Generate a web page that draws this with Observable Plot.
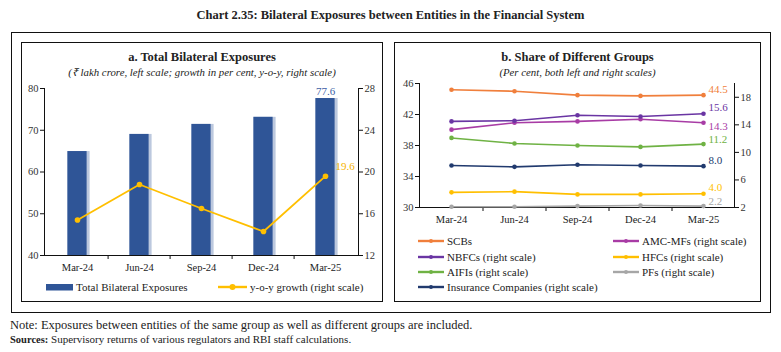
<!DOCTYPE html>
<html><head><meta charset="utf-8">
<script src="https://cdn.jsdelivr.net/npm/d3@7"></script>
<script src="https://cdn.jsdelivr.net/npm/@observablehq/plot@0.6"></script>
<style>
html,body{margin:0;padding:0;background:#fff}
body{position:relative;width:781px;height:352px;overflow:hidden;font-family:"Liberation Serif",serif;color:#222}
.box{position:absolute;box-sizing:border-box;border:1px solid #111}
.t{position:absolute;white-space:nowrap}
.plot{position:absolute}
.leg{position:absolute;white-space:nowrap;font-size:11px;line-height:12px;display:flex;align-items:center}
.leg svg{margin-right:3px}
</style></head>
<body>
<div class="t" id="mainTitle" style="left:0;width:781px;text-align:center;top:7px;font-size:12.5px;font-weight:bold;line-height:16px;">Chart 2.35: Bilateral Exposures between Entities in the Financial System</div>
<div class="box" style="left:11px;top:32px;width:760px;height:281px;border-width:1.5px"></div>
<div class="box" style="left:21px;top:42px;width:362px;height:260px"></div>
<div class="box" style="left:394px;top:42px;width:367px;height:260px"></div>

<div class="t" style="left:21px;width:362px;text-align:center;top:50px;font-size:12.5px;font-weight:bold;line-height:14px">a. Total Bilateral Exposures</div>
<div class="t" style="left:21px;width:362px;text-align:center;top:66px;font-size:10.8px;font-style:italic;line-height:12px">(₹ lakh crore, left scale; growth in per cent, y-o-y, right scale)</div>
<div class="t" style="left:394px;width:367px;text-align:center;top:50px;font-size:12.5px;font-weight:bold;line-height:14px">b. Share of Different Groups</div>
<div class="t" style="left:394px;width:367px;text-align:center;top:66px;font-size:10.8px;font-style:italic;line-height:12px">(Per cent, both left and right scales)</div>

<div id="pa1" class="plot" style="left:21px;top:80px"></div>
<div id="pa2" class="plot" style="left:21px;top:80px"></div>
<div id="pb1" class="plot" style="left:394px;top:75px"></div>
<div id="pb2" class="plot" style="left:394px;top:75px"></div>
<div id="legends"></div>

<div class="t" style="left:10px;top:317px;font-size:12.5px;line-height:16px">Note: Exposures between entities of the same group as well as different groups are included.</div>
<div class="t" style="left:10px;top:332px;font-size:11px;line-height:14px"><b style="font-size:10.5px">Sources:</b> Supervisory returns of various regulators and RBI staff calculations.</div>

<script>
// ---------- DATA ----------
const quarters = ["Mar-24", "Jun-24", "Sep-24", "Dec-24", "Mar-25"];
const totalExposures = [64.9, 69.0, 71.4, 73.1, 77.6];     // ₹ lakh crore (left)
const yoyGrowth = [15.4, 18.8, 16.5, 14.3, 19.6];           // per cent (right)

const scbs = [45.2, 45.0, 44.5, 44.4, 44.5];                // left scale
const amcMfs = [13.3, 14.3, 14.5, 14.8, 14.3];              // right scale
const nbfcs = [14.5, 14.6, 15.4, 15.2, 15.6];
const hfcs = [4.2, 4.3, 3.9, 3.9, 4.0];
const aifis = [12.1, 11.3, 11.0, 10.8, 11.2];
const pfs = [2.1, 2.1, 2.2, 2.3, 2.2];
const insurance = [8.1, 7.9, 8.2, 8.1, 8.0];

const aTicksLeft = [40, 50, 60, 70, 80];
const aTicksRight = [12, 16, 20, 24, 28];
const bTicksLeft = [30, 34, 38, 42, 46];
const bTicksRight = [2, 6, 10, 14, 18];

const seriesNames = ["SCBs", "AMC-MFs (right scale)", "NBFCs (right scale)", "HFCs (right scale)", "AIFIs (right scale)", "PFs (right scale)", "Insurance Companies (right scale)"];
const seriesValues = [scbs, amcMfs, nbfcs, hfcs, aifis, pfs, insurance];
const seriesAxis = ["left", "right", "right", "right", "right", "right", "right"];

// ---------- STYLE ----------
const seriesColors = ["#f07f3c", "#a83ca5", "#6a35a3", "#ffbf00", "#6fb244", "#a6a6a6", "#213a6e"];
const labelDy = [-6, 4, -6, -6, -5, -5, -6];
const barColor = "#2f5597", barShade = "#bcc8de", growthColor = "#ffbf00";
const fmt = d3.format(".1f");
const plotStyle = {fontFamily: "Liberation Serif", fontSize: "10.5px", color: "#333", background: "transparent", overflow: "visible"};

// ---------- PANEL A ----------
const A = {width: 361, height: 200, marginLeft: 23, marginRight: 24, marginTop: 8, marginBottom: 25};
const aData = quarters.map((q, i) => ({q, v: totalExposures[i], g: yoyGrowth[i]}));
const bandHalf = (A.width - A.marginLeft - A.marginRight) / quarters.length / 2;
const barInset = bandHalf - 10;

document.getElementById("pa1").append(Plot.plot({
  ...A, style: plotStyle,
  x: {type: "band", domain: quarters, padding: 0},
  y: {domain: [40, 80]},
  marks: [
    Plot.barY(aData, {x: "q", y1: 40, y2: "v", fill: barShade, insetLeft: barInset, insetRight: barInset - 3}),
    Plot.barY(aData, {x: "q", y1: 40, y2: "v", fill: barColor, insetLeft: barInset, insetRight: barInset}),
    Plot.text(aData.slice(-1), {x: "q", y: "v", text: d => fmt(d.v), dy: -7, fill: "#3d5ea6", fontSize: 11}),
    Plot.axisY({ticks: aTicksLeft, tickSize: 4, tickPadding: 2, label: null, stroke: "#111"}),
    Plot.axisX({tickSize: 0, tickPadding: 8, label: null, fill: "#222"}),
    Plot.axisX(quarters.slice(1), {tickSize: 4, tickFormat: () => "", dx: -bandHalf, label: null, stroke: "#111"}),
    Plot.frame({anchor: "left", stroke: "#111"}),
    Plot.frame({anchor: "bottom", stroke: "#111"})
  ]
}));

document.getElementById("pa2").append(Plot.plot({
  ...A, style: plotStyle,
  x: {type: "point", domain: quarters, padding: 0.5, axis: null},
  y: {domain: [12, 28]},
  marks: [
    Plot.line(aData, {x: "q", y: "g", stroke: growthColor, strokeWidth: 1.8}),
    Plot.dot(aData, {x: "q", y: "g", fill: growthColor, r: 2.8}),
    Plot.text(aData.slice(-1), {x: "q", y: "g", text: d => fmt(d.g), dx: 10, dy: -10, textAnchor: "start", fill: "#f5b300", fontSize: 11}),
    Plot.axisY({anchor: "right", ticks: aTicksRight, tickSize: 4, tickPadding: 2, label: null, stroke: "#111"}),
    Plot.frame({anchor: "right", stroke: "#111"})
  ]
}));

// ---------- PANEL B ----------
const B = {width: 366, height: 150, marginLeft: 25, marginRight: 26, marginTop: 8, marginBottom: 18};
const bHalf = (B.width - B.marginLeft - B.marginRight) / quarters.length / 2;
const longB = axis => seriesNames.flatMap((name, k) => seriesAxis[k] !== axis ? [] :
  seriesValues[k].map((v, i) => ({name, q: quarters[i], v, color: seriesColors[k], ldy: labelDy[k]})));
const lastB = axis => longB(axis).filter(d => d.q === quarters[quarters.length - 1]);
const labelMarks = axis => lastB(axis).map(d =>
  Plot.text([d], {x: "q", y: "v", text: e => fmt(e.v), fill: d.color, dx: 5, dy: d.ldy, textAnchor: "start", fontSize: 11}));

document.getElementById("pb1").append(Plot.plot({
  ...B, style: plotStyle,
  x: {type: "point", domain: quarters, padding: 0.5},
  y: {domain: [30, 46]},
  marks: [
    Plot.line(longB("left"), {x: "q", y: "v", z: "name", stroke: "color", strokeWidth: 1.6}),
    Plot.dot(longB("left"), {x: "q", y: "v", fill: "color", r: 2.3}),
    ...labelMarks("left"),
    Plot.axisY({ticks: bTicksLeft, tickSize: 4, tickPadding: 2, label: null, stroke: "#111"}),
    Plot.axisX({tickSize: 0, tickPadding: 8, label: null, fill: "#222"}),
    Plot.axisX(quarters.slice(1), {tickSize: 4, tickFormat: () => "", dx: -bHalf, label: null, stroke: "#111"}),
    Plot.frame({anchor: "left", stroke: "#111"}),
    Plot.frame({anchor: "bottom", stroke: "#111"})
  ]
}));

document.getElementById("pb2").append(Plot.plot({
  ...B, style: plotStyle,
  x: {type: "point", domain: quarters, padding: 0.5, axis: null},
  y: {domain: [2, 20]},
  marks: [
    Plot.line(longB("right"), {x: "q", y: "v", z: "name", stroke: "color", strokeWidth: 1.6}),
    Plot.dot(longB("right"), {x: "q", y: "v", fill: "color", r: 2.3}),
    ...labelMarks("right"),
    Plot.axisY({anchor: "right", ticks: bTicksRight, tickSize: 4, tickPadding: 2, label: null, stroke: "#111"}),
    Plot.frame({anchor: "right", stroke: "#111"})
  ]
}));

// ---------- LEGENDS ----------
const legRoot = document.getElementById("legends");
function addLegend(left, top, swatch, label) {
  const d = document.createElement("div");
  d.className = "leg";
  d.style.left = left + "px";
  d.style.top = (top - 6) + "px";
  d.innerHTML = swatch + "<span>" + label + "</span>";
  legRoot.append(d);
}
const lineSwatch = (c, w, r) => `<svg width="${w}" height="10"><line x1="0" x2="${w}" y1="5" y2="5" stroke="${c}" stroke-width="2.4"/><circle cx="${w/2}" cy="5" r="${r}" fill="${c}"/></svg>`;
addLegend(46, 287, `<svg width="27" height="10"><rect x="0" y="2" width="27" height="6.5" fill="${barColor}"/></svg>`, "Total Bilateral Exposures");
addLegend(218, 287, lineSwatch(growthColor, 29, 3), "y-o-y growth (right scale)");
const rowsB = [241, 256.7, 271.7, 287.3];
seriesNames.forEach((name, i) => {
  const col = i % 2, row = Math.floor(i / 2);
  addLegend(col ? 613 : 418, rowsB[row], lineSwatch(seriesColors[i], 26, 2), name);
});
</script>
</body></html>
